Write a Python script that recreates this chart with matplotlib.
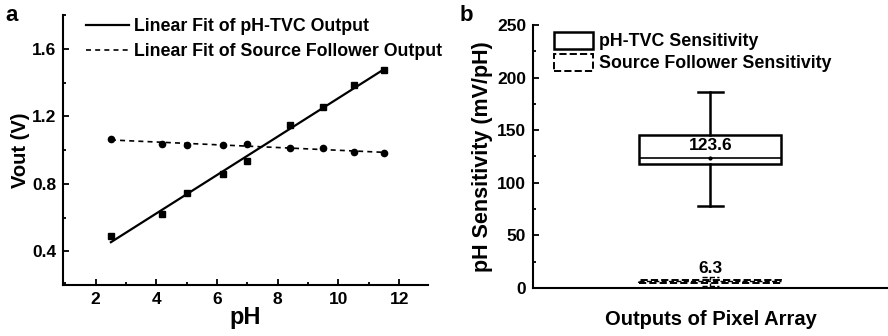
import numpy as np
import matplotlib
matplotlib.use("Agg")
import matplotlib.pyplot as plt
from matplotlib.patches import Patch
from matplotlib.ticker import MultipleLocator

plt.rcParams['font.family'] = ['Liberation Sans', 'DejaVu Sans']
plt.rcParams['font.weight'] = 'bold'

# ---- data panel a ----
ph = [2.5, 4.2, 5.0, 6.2, 7.0, 8.4, 9.5, 10.5, 11.5]
vout_tvc = [0.489, 0.620, 0.744, 0.856, 0.933, 1.148, 1.253, 1.384, 1.473]
vout_sf = [1.064, 1.038, 1.030, 1.030, 1.038, 1.010, 1.010, 0.988, 0.983]

# ---- data panel b ----
tvc_box = dict(med=123.6, q1=118.0, q3=145.5, whislo=77.5, whishi=186.0, mean=123.6)
sf_box = dict(med=6.3, q1=5.2, q3=7.6, whislo=1.5, whishi=10.5, mean=6.3)
tvc_label = "123.6"
sf_label = "6.3"

fig = plt.figure(figsize=(8.88, 3.36), dpi=100)

# ---------- panel a ----------
ax = fig.add_axes([0.0709, 0.1518, 0.4111, 0.8035])
ph_arr = np.array(ph)
p1 = np.polyfit(ph_arr, vout_tvc, 1)
p2 = np.polyfit(ph_arr, vout_sf, 1)
ax.plot(ph, vout_tvc, 's', color='black', ms=5)
ax.plot(ph, vout_sf, 'o', color='black', ms=4.5)
ax.plot(ph_arr, np.polyval(p1, ph_arr), '-', color='black', lw=1.6,
        label='Linear Fit of pH-TVC Output')
ax.plot(ph_arr, np.polyval(p2, ph_arr), '--', color='black', lw=1.2, dashes=(3, 2.5),
        label='Linear Fit of Source Follower Output')
ax.set_xlim(0.92, 12.95)
ax.set_ylim(0.2, 1.8)
ax.set_xticks([2, 4, 6, 8, 10, 12])
ax.set_yticks([0.4, 0.8, 1.2, 1.6])
ax.xaxis.set_minor_locator(MultipleLocator(1))
ax.yaxis.set_minor_locator(MultipleLocator(0.2))
ax.tick_params(which='both', direction='in', labelsize=12.5, width=1.3)
ax.tick_params(which='major', length=4, pad=5)
ax.tick_params(which='minor', length=2.5)
for s in ['top', 'right']:
    ax.spines[s].set_visible(False)
for s in ['left', 'bottom']:
    ax.spines[s].set_linewidth(1.5)
ax.set_xlabel('pH', fontsize=17, fontweight='bold', labelpad=-1)
ax.set_ylabel('Vout (V)', fontsize=14.5, fontweight='bold', labelpad=1)
ax.legend(loc='upper left', bbox_to_anchor=(0.03, 1.035), frameon=False, fontsize=12.8,
          handlelength=2.4, handletextpad=0.3, labelspacing=0.45, borderaxespad=0.3)
fig.text(0.006, 0.955, 'a', fontsize=16, fontweight='bold', va='center')

# ---------- panel b ----------
bx = fig.add_axes([0.6002, 0.1429, 0.3998, 0.7827])
bx.bxp([dict(tvc_box, label='')], positions=[0.5], widths=[0.4],
       showmeans=True, meanline=False, showfliers=False, patch_artist=True,
       boxprops=dict(facecolor='white', edgecolor='black', linewidth=1.8),
       medianprops=dict(color='black', linewidth=1.2),
       whiskerprops=dict(color='black', linewidth=1.8),
       capprops=dict(color='black', linewidth=1.8),
       meanprops=dict(marker='o', markerfacecolor='black', markeredgecolor='black', markersize=2),
       capwidths=[0.07])
bx.bxp([dict(sf_box, label='')], positions=[0.5], widths=[0.4],
       showmeans=False, showfliers=False, patch_artist=True,
       boxprops=dict(facecolor='white', edgecolor='black', linewidth=1.4, linestyle='--'),
       medianprops=dict(color='black', linewidth=1.0, linestyle='--'),
       whiskerprops=dict(color='black', linewidth=1.0, linestyle='--'),
       capprops=dict(color='black', linewidth=1.0, linestyle='--'),
       capwidths=[0.05])
bx.text(0.5, tvc_box['med'] + 4.5, tvc_label, ha='center', va='bottom', fontsize=12.5, fontweight='bold')
bx.text(0.5, sf_box['q3'] + 4, sf_label, ha='center', va='bottom', fontsize=12.5, fontweight='bold')
bx.set_xlim(0, 1)
bx.set_ylim(0, 250)
bx.set_xticks([])
bx.set_yticks([0, 50, 100, 150, 200, 250])
bx.yaxis.set_minor_locator(MultipleLocator(25))
bx.tick_params(which='both', direction='in', labelsize=12.5, width=1.3)
bx.tick_params(which='major', length=4, pad=5)
bx.tick_params(which='minor', length=2.5)
for s in ['top', 'right']:
    bx.spines[s].set_visible(False)
for s in ['left', 'bottom']:
    bx.spines[s].set_linewidth(1.5)
bx.set_xlabel('Outputs of Pixel Array', fontsize=14.5, fontweight='bold', labelpad=16)
bx.set_ylabel('pH Sensitivity (mV/pH)', fontsize=15.5, fontweight='bold', labelpad=3)
handles = [Patch(facecolor='white', edgecolor='black', linewidth=1.8),
           Patch(facecolor='white', edgecolor='black', linewidth=1.4, linestyle='--')]
bx.legend(handles, ['pH-TVC Sensitivity', 'Source Follower Sensitivity'], loc='upper left',
          bbox_to_anchor=(0.03, 1.015), frameon=False, fontsize=12.8,
          handlelength=2.2, handleheight=1.1, handletextpad=0.3, labelspacing=0.2, borderaxespad=0.2)
fig.text(0.518, 0.955, 'b', fontsize=16, fontweight='bold', va='center')

fig.savefig('out.png', dpi=100)
